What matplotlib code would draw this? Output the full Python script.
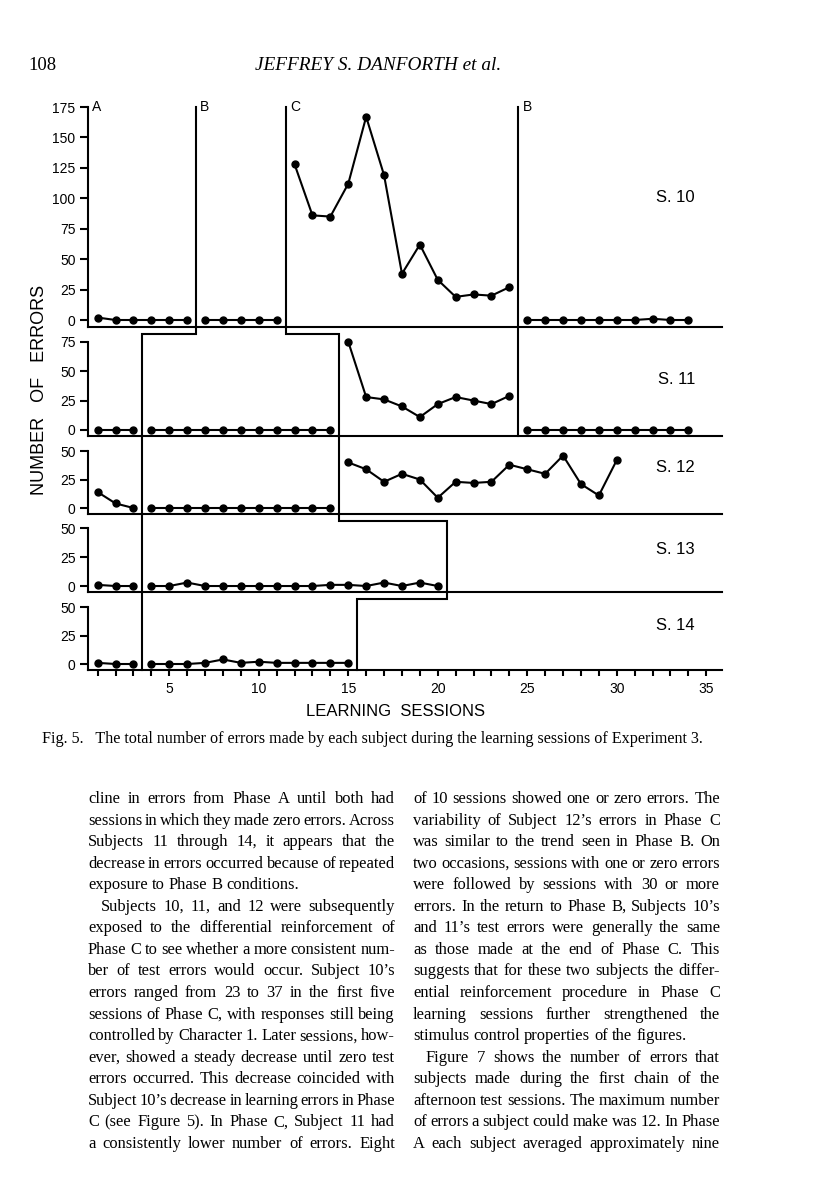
import matplotlib
matplotlib.use("Agg")
import matplotlib.pyplot as plt

W, H, DPI = 816, 1193, 100

# ---- data (errors per learning session) ----
# each phase: first session number and the errors per session
s10_starts = [1, 7, 12, 25]
s10_phases = [
    [2, 0, 0, 0, 0, 0],
    [0, 0, 0, 0, 0],
    [128, 86, 85, 112, 167, 119, 38, 62, 33, 19, 21, 20, 27],
    [0, 0, 0, 0, 0, 0, 0, 1, 0, 0],
]
s11_starts = [1, 4, 15, 25]
s11_phases = [
    [0, 0, 0],
    [0, 0, 0, 0, 0, 0, 0, 0, 0, 0, 0],
    [75, 28, 26, 20, 11, 22, 28, 25, 22, 29],
    [0, 0, 0, 0, 0, 0, 0, 0, 0, 0],
]
s12_starts = [1, 4, 15]
s12_phases = [
    [14, 4, 0],
    [0, 0, 0, 0, 0, 0, 0, 0, 0, 0, 0],
    [40, 34, 23, 30, 25, 9, 23, 22, 23, 38, 34, 30, 46, 21, 11, 42],
]
s13_starts = [1, 4]
s13_phases = [
    [1, 0, 0],
    [0, 0, 3, 0, 0, 0, 0, 0, 0, 0, 1, 1, 0, 3, 0, 3, 0],
]
s14_starts = [1, 4]
s14_phases = [
    [1, 0, 0],
    [0, 0, 0, 1, 4, 1, 2, 1, 1, 1, 1, 1],
]

# session boundaries where the phase changed, per subject
s10_changes = [6.5, 11.5, 24.5]
s11_changes = [3.5, 14.5, 24.5]
s12_changes = [3.5, 14.5]
s13_changes = [3.5, 20.5]
s14_changes = [3.5, 15.5]

subject_labels = ["S. 10", "S. 11", "S. 12", "S. 13", "S. 14"]
s10_yticks = [0, 25, 50, 75, 100, 125, 150, 175]
s11_yticks = [0, 25, 50, 75]
small_yticks = [0, 25, 50]
phase_letters = ["A", "B", "C", "B"]
x_ticklabels = [5, 10, 15, 20, 25, 30, 35]

caption = ("Fig. 5.   The total number of errors made by each subject "
           "during the learning sessions of Experiment 3.")

# (text, indent, justify)
left_col = [
    ("cline in errors from Phase A until both had", False, True),
    ("sessions in which they made zero errors. Across", False, True),
    ("Subjects 11 through 14, it appears that the", False, True),
    ("decrease in errors occurred because of repeated", False, True),
    ("exposure to Phase B conditions.", False, False),
    ("Subjects 10, 11, and 12 were subsequently", True, True),
    ("exposed to the differential reinforcement of", False, True),
    ("Phase C to see whether a more consistent num-", False, True),
    ("ber of test errors would occur. Subject 10\u2019s", False, True),
    ("errors ranged from 23 to 37 in the first five", False, True),
    ("sessions of Phase C, with responses still being", False, True),
    ("controlled by Character 1. Later sessions, how-", False, True),
    ("ever, showed a steady decrease until zero test", False, True),
    ("errors occurred. This decrease coincided with", False, True),
    ("Subject 10\u2019s decrease in learning errors in Phase", False, True),
    ("C (see Figure 5). In Phase C, Subject 11 had", False, True),
    ("a consistently lower number of errors. Eight", False, True),
]
right_col = [
    ("of 10 sessions showed one or zero errors. The", False, True),
    ("variability of Subject 12\u2019s errors in Phase C", False, True),
    ("was similar to the trend seen in Phase B. On", False, True),
    ("two occasions, sessions with one or zero errors", False, True),
    ("were followed by sessions with 30 or more", False, True),
    ("errors. In the return to Phase B, Subjects 10\u2019s", False, True),
    ("and 11\u2019s test errors were generally the same", False, True),
    ("as those made at the end of Phase C. This", False, True),
    ("suggests that for these two subjects the differ-", False, True),
    ("ential reinforcement procedure in Phase C", False, True),
    ("learning sessions further strengthened the", False, True),
    ("stimulus control properties of the figures.", False, False),
    ("Figure 7 shows the number of errors that", True, True),
    ("subjects made during the first chain of the", False, True),
    ("afternoon test sessions. The maximum number", False, True),
    ("of errors a subject could make was 12. In Phase", False, True),
    ("A each subject averaged approximately nine", False, True),
]

# ---- layout (pixels) ----
X_LEFT, X_RIGHT = 88, 722
XLIM = (0.46, 35.88)
panels = [
    # top px, bottom px, ylim, yticks
    (100, 327, (-5.75, 180.8), s10_yticks),
    (327, 436, (-5.1, 87.5), s11_yticks),
    (436, 514, (-5.26, 63.2), small_yticks),
    (514, 592, (-5.2, 62.6), small_yticks),
    (592, 670, (-5.26, 63.2), small_yticks),
]
label_y_px = [197, 380, 468, 549, 626]
STEP_PX = 7

all_starts = [s10_starts, s11_starts, s12_starts, s13_starts, s14_starts]
all_phases = [s10_phases, s11_phases, s12_phases, s13_phases, s14_phases]
all_changes = [s10_changes, s11_changes, s12_changes, s13_changes, s14_changes]

plt.rcParams["font.family"] = ["Liberation Sans", "DejaVu Sans"]
fig = plt.figure(figsize=(W / DPI, H / DPI), dpi=DPI)
fig.patch.set_facecolor("white")

LW = 1.5
axes = []
for i, (top, bot, ylim, yticks) in enumerate(panels):
    ax = fig.add_axes([X_LEFT / W, 1 - bot / H, (X_RIGHT - X_LEFT) / W, (bot - top) / H])
    ax.set_xlim(*XLIM)
    ax.set_ylim(*ylim)
    ax.patch.set_alpha(0)
    for s in ("top", "right"):
        ax.spines[s].set_visible(False)
    ax.spines["left"].set_bounds(ylim[0], yticks[-1])
    for s in ("left", "bottom"):
        ax.spines[s].set_linewidth(LW)
    ax.set_yticks(yticks)
    ax.tick_params(axis="y", direction="out", length=5.5, width=LW, pad=3.5, labelsize=10)

    # data series, one unconnected segment per phase
    for start, vals in zip(all_starts[i], all_phases[i]):
        xs = list(range(start, start + len(vals)))
        ax.plot(xs, vals, color="black", lw=1.5, marker="o", ms=5, clip_on=False, zorder=3)

    # phase change lines, with steps where they shift between subjects
    trans = ax.get_xaxis_transform()
    f = 1 - STEP_PX / (bot - top)
    cur = all_changes[i]
    for j, x in enumerate(cur):
        if i == 0:
            ax.plot([x, x], [ylim[0], yticks[-1]], color="black", lw=LW, clip_on=False)
        else:
            px_ = all_changes[i - 1][j]
            ax.plot([x, x, px_, px_], [0, f, f, 1], color="black", lw=LW, transform=trans,
                    clip_on=False, solid_joinstyle="miter")

    ax.text(1 - (X_RIGHT - 695) / (X_RIGHT - X_LEFT), (bot - label_y_px[i]) / (bot - top),
            subject_labels[i], transform=ax.transAxes, ha="right", va="center", fontsize=12)

    if i < len(panels) - 1:
        ax.set_xticks([])
    else:
        ax.set_xticks(range(1, 36))
        ax.set_xticklabels([str(t) if t in x_ticklabels else "" for t in range(1, 36)])
        ax.tick_params(axis="x", direction="out", length=4.5, width=LW, pad=4, labelsize=10)
    axes.append(ax)

# phase letters at the top of S. 10
ax0 = axes[0]
for x, letter in zip([XLIM[0]] + s10_changes, phase_letters):
    ax0.annotate(letter, (x, s10_yticks[-1]), xytext=(3, 0), textcoords="offset points",
                 ha="left", va="center", fontsize=10)


def px(x, y):
    return x / W, 1 - y / H


fig.text(*px(40, 390), "NUMBER   OF   ERRORS", rotation=90, ha="center", va="center", fontsize=13)
fig.text(*px(395, 712), "LEARNING  SESSIONS", ha="center", va="center", fontsize=12)

# ---- page text ----
SERIF = ["Liberation Serif"]
renderer = fig.canvas.get_renderer()


def text_width(s, fs, **kw):
    t = fig.text(0, 0, s, fontsize=fs, family=SERIF, **kw)
    w = t.get_window_extent(renderer).width
    t.remove()
    return w


fig.text(*px(28, 70), "108", ha="left", va="baseline", fontsize=13.5, family=SERIF)
head = "JEFFREY S. DANFORTH et al."
head_fs = 13 * 245 / text_width(head, 13, style="italic")
fig.text(*px(378, 70), head, ha="center", va="baseline",
         fontsize=head_fs, family=SERIF, style="italic")

cap_fs = 10 * 663 / text_width(caption, 10)
fig.text(*px(42, 743), caption, ha="left", va="baseline", fontsize=cap_fs, family=SERIF)


def fit_size(cols, colw, ref=10, indent=13, tight=0.6):
    space = text_width("a a", ref) - 2 * text_width("a", ref)
    best = 99
    for lines in cols:
        for line, ind, just in lines:
            words = line.split(" ")
            need = sum(text_width(w, ref) for w in words) + (len(words) - 1) * space * tight
            best = min(best, ref * (colw - (indent if ind else 0)) / need)
    return best


def set_column(lines, x0, x1, y_first, dy, fs, indent=13):
    space = text_width("a a", fs) - 2 * text_width("a", fs)
    for k, (line, ind, just) in enumerate(lines):
        words = line.split(" ")
        widths = [text_width(w, fs) for w in words]
        start = x0 + (indent if ind else 0)
        if just and len(words) > 1:
            gap = (x1 - start - sum(widths)) / (len(words) - 1)
        else:
            gap = space
        x = start
        y = y_first + k * dy
        for w, ww in zip(words, widths):
            fig.text(*px(x, y), w, ha="left", va="baseline", fontsize=fs, family=SERIF)
            x += ww + gap


BODY_FS = fit_size([left_col, right_col], 307)
set_column(left_col, 88, 395, 803, 21.56, BODY_FS)
set_column(right_col, 413, 720, 803, 21.56, BODY_FS)

fig.savefig("out.png", dpi=DPI, facecolor="white")
